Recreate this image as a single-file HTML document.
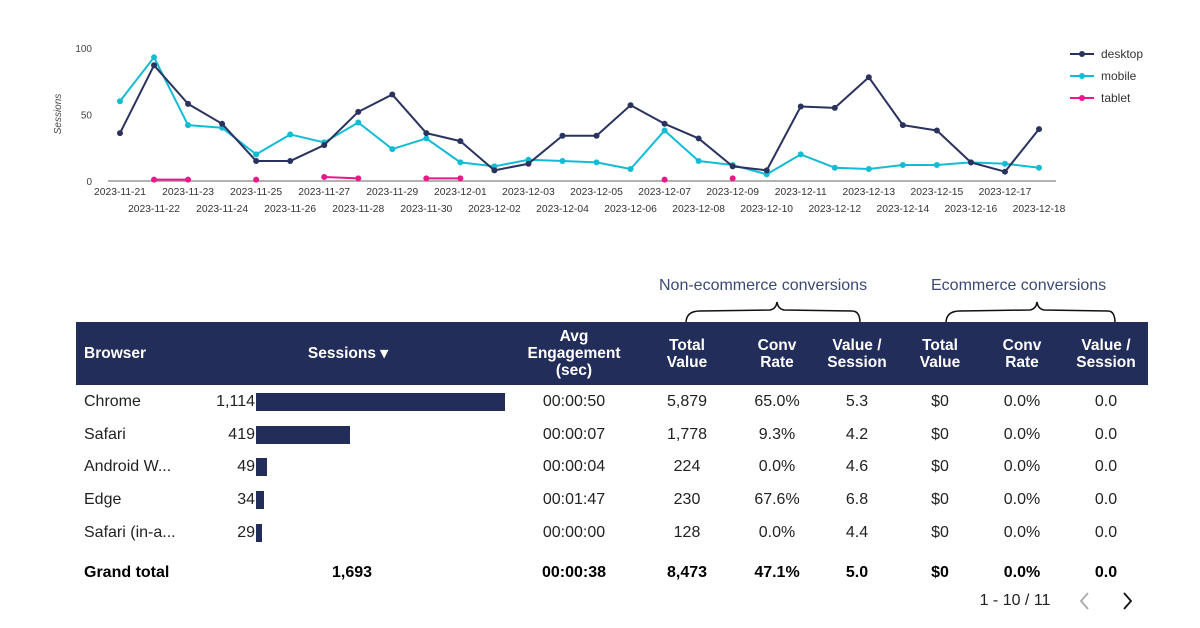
<!DOCTYPE html>
<html><head><meta charset="utf-8"><style>
body{margin:0;width:1200px;height:628px;background:#fff;font-family:"Liberation Sans",sans-serif;position:relative;overflow:hidden}
.a{position:absolute;white-space:nowrap}
.h{color:#fff;font-weight:bold;font-size:15.5px;line-height:17px;text-align:center;transform:translateX(-50%)}
.c{font-size:16px;color:#222;transform:translate(-50%,-50%)}
.l{font-size:16px;color:#222;transform:translateY(-50%)}
.r{font-size:16px;color:#222;transform:translate(-100%,-50%)}
.b{font-weight:bold;color:#000}
</style></head><body>
<svg id="chart" class="a" style="left:0;top:0" width="1200" height="230"></svg>
<script>
const dates=["2023-11-21","2023-11-22","2023-11-23","2023-11-24","2023-11-25","2023-11-26","2023-11-27","2023-11-28","2023-11-29","2023-11-30","2023-12-01","2023-12-02","2023-12-03","2023-12-04","2023-12-05","2023-12-06","2023-12-07","2023-12-08","2023-12-09","2023-12-10","2023-12-11","2023-12-12","2023-12-13","2023-12-14","2023-12-15","2023-12-16","2023-12-17","2023-12-18"];
const desktop=[36,87,58,43,15,15,27,52,65,36,30,8,13,34,34,57,43,32,11,8,56,55,78,42,38,14,7,39];
const mobile=[60,93,42,40,20,35,29,44,24,32,14,11,16,15,14,9,38,15,12,5,20,10,9,12,12,14,13,10];
const tablet=[null,1,1,null,1,null,3,2,null,2,2,null,null,null,null,null,1,null,2,null,null,null,null,null,null,null,null,null];
const yTicks=[0,50,100];
const svg=document.getElementById('chart');const NS='http://www.w3.org/2000/svg';
const x=i=>120+i*(1039-120)/(dates.length-1);
const y=v=>181-v*1.33;
function mk(t,a,p){const e=document.createElementNS(NS,t);for(const k in a)e.setAttribute(k,a[k]);(p||svg).appendChild(e);return e;}
let ax=mk('line',{x1:108,x2:1056,y1:181,y2:181,stroke:'#999','stroke-width':1.5});


yTicks.forEach(v=>{const t=mk('text',{x:92,y:y(v)+4,'text-anchor':'end','font-size':10,fill:'#444'});t.textContent=v;

});
const yt=mk('text',{x:0,y:0,transform:'translate(61,114) rotate(-90)','text-anchor':'middle','font-size':10,'font-style':'italic',fill:'#444'});yt.textContent='Sessions';


dates.forEach((d,i)=>{const t=mk('text',{x:x(i),y:i%2?212:195,'text-anchor':'middle','font-size':10.3,fill:'#333'});t.textContent=d;

});
function series(data,color,name){const g=mk('g',{});


for(let i=0;i<data.length-1;i++){if(data[i]!=null&&data[i+1]!=null)mk('line',{x1:x(i),y1:y(data[i]),x2:x(i+1),y2:y(data[i+1]),stroke:color,'stroke-width':2},g);}
data.forEach((v,i)=>{if(v==null)return;const c=mk('circle',{cx:x(i),cy:y(v),r:3,fill:color},g);

});}
series(mobile,'#12bcd4','mobile');series(desktop,'#2a325e','desktop');series(tablet,'#e8178a','tablet');
[['desktop','#2a325e'],['mobile','#12bcd4'],['tablet','#e8178a']].forEach((s,k)=>{const g=mk('g',{});


const yy=54+k*22;mk('line',{x1:1070,x2:1094,y1:yy,y2:yy,stroke:s[1],'stroke-width':2},g);mk('circle',{cx:1082,cy:yy,r:3,fill:s[1]},g);const t=mk('text',{x:1101,y:yy+4,'font-size':12,fill:'#333'},g);t.textContent=s[0];});
</script>

<div class="a" style="left:659px;top:277px;font-size:16px;color:#3b4a75">Non-ecommerce conversions</div>
<div class="a" style="left:931px;top:277px;font-size:16px;color:#3b4a75">Ecommerce conversions</div>
<svg class="a" style="left:0;top:0" width="1200" height="330"><path d="M686,323 Q686,311 700,311 L770,310 Q776,309 777,302 Q778,309 784,310 L852,311 Q860,311 860,323" fill="none" stroke="#111" stroke-width="1.5"/><path d="M946,323 Q946,311 960,311 L1030,310 Q1036,309 1037,302 Q1038,309 1044,310 L1108,311 Q1115,311 1115,323" fill="none" stroke="#111" stroke-width="1.5"/></svg>

<div class="a" style="left:76px;top:322px;width:1072px;height:63px;background:#232d5a"></div>
<div class="a h" style="left:84px;top:345px;transform:none">Browser</div>
<div class="a h" style="left:348px;top:345px">Sessions ▾</div>
<div class="a h" style="left:574px;top:328px">Avg<br>Engagement<br>(sec)</div>
<div class="a h" style="left:687px;top:337px">Total<br>Value</div>
<div class="a h" style="left:777px;top:337px">Conv<br>Rate</div>
<div class="a h" style="left:857px;top:337px">Value /<br>Session</div>
<div class="a h" style="left:940px;top:337px">Total<br>Value</div>
<div class="a h" style="left:1022px;top:337px">Conv<br>Rate</div>
<div class="a h" style="left:1106px;top:337px">Value /<br>Session</div>

<div id="rows"></div>
<script>
const browsers=["Chrome","Safari","Android W...","Edge","Safari (in-a..."];
const sessions=[1114,419,49,34,29];
const engagement=["00:00:50","00:00:07","00:00:04","00:01:47","00:00:00"];
const totalValue=["5,879","1,778","224","230","128"];
const convRate=["65.0%","9.3%","0.0%","67.6%","0.0%"];
const valSession=["5.3","4.2","4.6","6.8","4.4"];
const ecomTotal=["$0","$0","$0","$0","$0"];
const ecomRate=["0.0%","0.0%","0.0%","0.0%","0.0%"];
const ecomVal=["0.0","0.0","0.0","0.0","0.0"];
const rows=document.getElementById('rows');
function cell(cls,left,top,txt,name){const d=document.createElement('div');d.className='a '+cls;d.style.left=left+'px';d.style.top=top+'px';d.textContent=txt;


rows.appendChild(d);}
browsers.forEach((b,i)=>{const yy=402+i*32.7;
cell('l',84,yy,b,'browser-cell');
cell('r',255,yy,sessions[i].toLocaleString('en-US'),'sessions-cell');
const bar=document.createElement('div');bar.className='a';bar.style.cssText=`left:256px;top:${yy-9}px;height:18px;width:${sessions[i]*249/1114}px;background:#232d5a`;


rows.appendChild(bar);
cell('c',574,yy,engagement[i],'engagement-cell');
cell('c',687,yy,totalValue[i],'total-value-cell');
cell('c',777,yy,convRate[i],'conv-rate-cell');
cell('c',857,yy,valSession[i],'value-session-cell');
cell('c',940,yy,ecomTotal[i],'ecom-total-cell');
cell('c',1022,yy,ecomRate[i],'ecom-rate-cell');
cell('c',1106,yy,ecomVal[i],'ecom-value-cell');});
</script>
<div class="a l b" style="left:84px;top:573px">Grand total</div>
<div class="a c b" style="left:352px;top:573px">1,693</div>
<div class="a c b" style="left:574px;top:573px">00:00:38</div>
<div class="a c b" style="left:687px;top:573px">8,473</div>
<div class="a c b" style="left:777px;top:573px">47.1%</div>
<div class="a c b" style="left:857px;top:573px">5.0</div>
<div class="a c b" style="left:940px;top:573px">$0</div>
<div class="a c b" style="left:1022px;top:573px">0.0%</div>
<div class="a c b" style="left:1106px;top:573px">0.0</div>
<div class="a c" style="left:1015px;top:601px">1 - 10 / 11</div>
<svg class="a" style="left:1077px;top:591px" width="16" height="20"><path d="M11,2 L4,10 L11,18" fill="none" stroke="#aaa" stroke-width="1.8"/></svg>
<svg class="a" style="left:1120px;top:591px" width="16" height="20"><path d="M4,2 L11,10 L4,18" fill="none" stroke="#111" stroke-width="1.8"/></svg>
</body></html>
